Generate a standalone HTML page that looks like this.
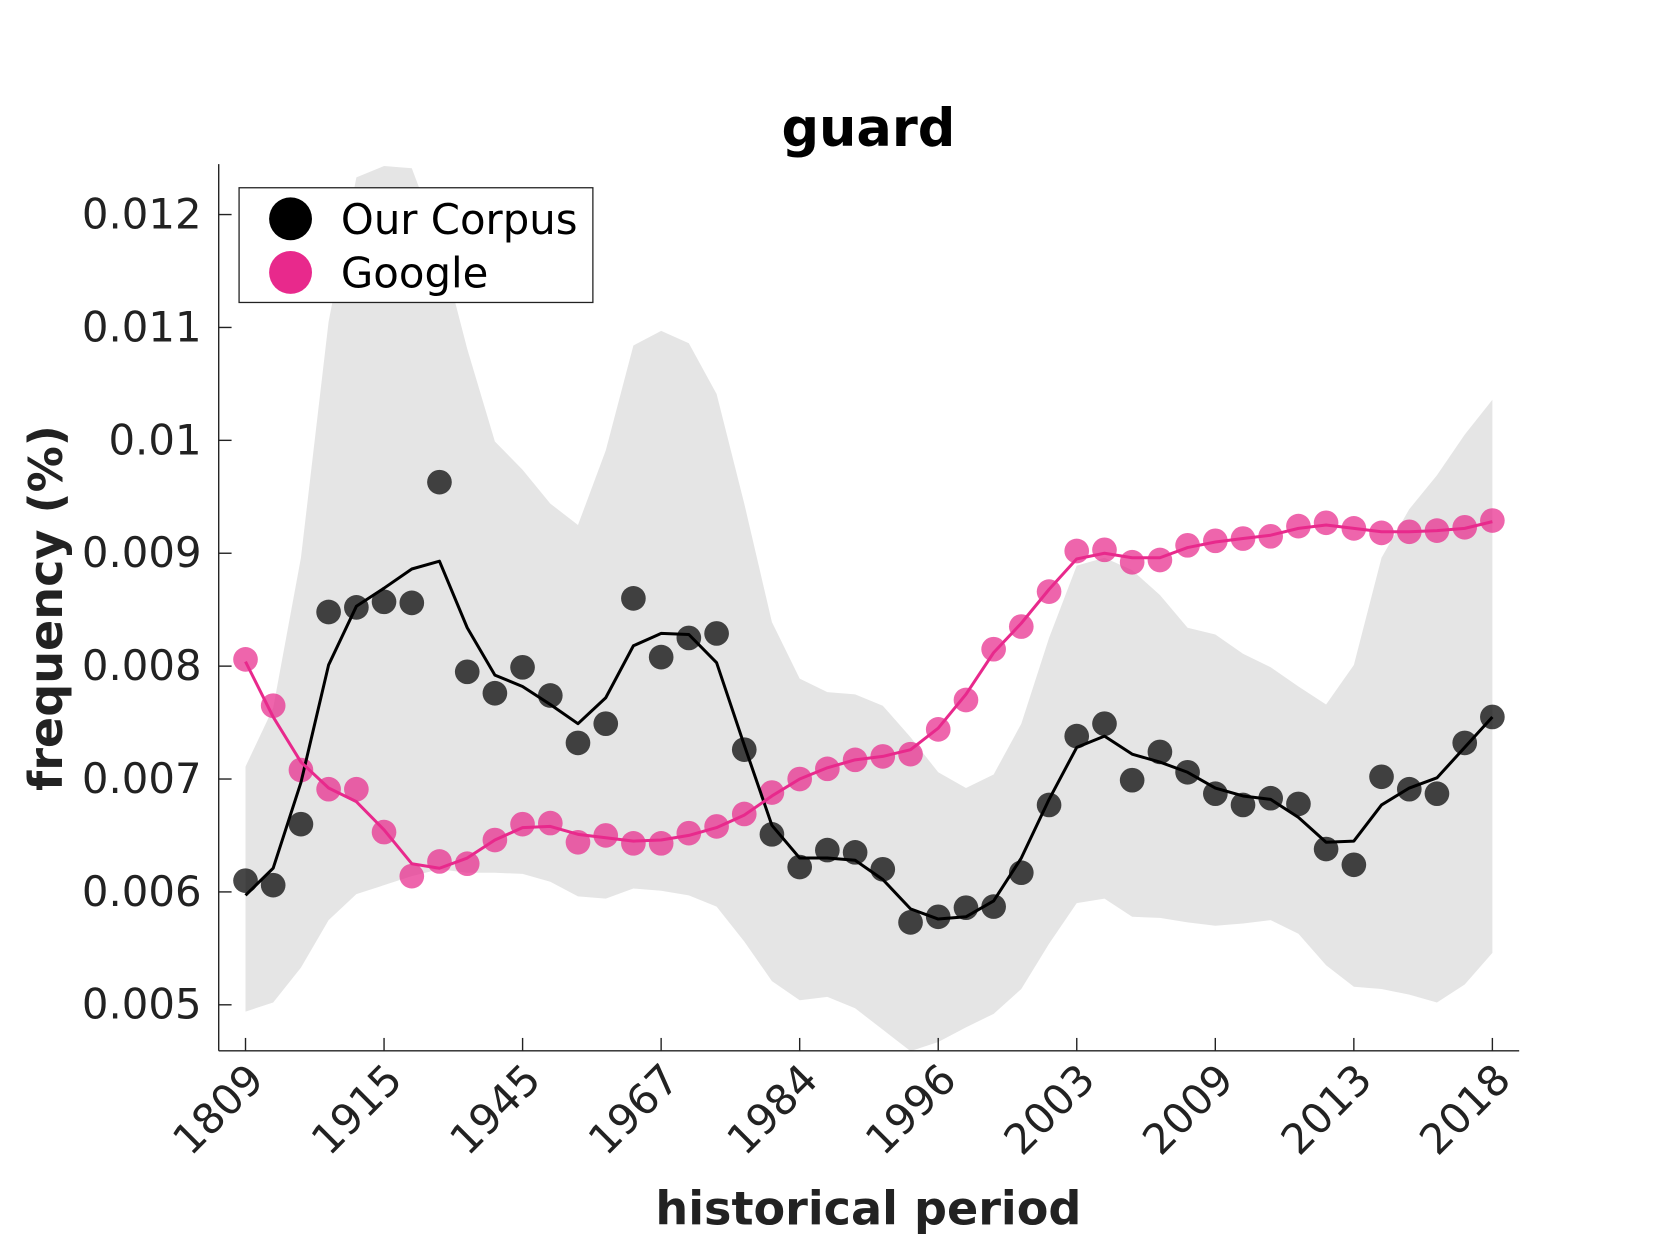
<!DOCTYPE html>
<html><head><meta charset="utf-8"><style>html,body{margin:0;padding:0;background:#fff}svg{display:block}text{font-family:"DejaVu Sans","Liberation Sans",sans-serif}</style></head>
<body>
<svg id="chart" width="1680" height="1260" viewBox="0 0 1567 1175" xmlns="http://www.w3.org/2000/svg">
<defs><clipPath id="clip"><rect x="204" y="153" width="1213" height="827"/></clipPath></defs>
<rect width="1567" height="1175" fill="#fff"/>
<text x="810" y="136" font-size="49" font-weight="bold" text-anchor="middle" fill="#000">guard</text>
<g id="band" clip-path="url(#clip)"></g>
<g id="series" clip-path="url(#clip)"></g>
<g id="axes"></g>
<text x="810" y="1142" font-size="43" font-weight="bold" text-anchor="middle" fill="#222">historical period</text>
<text transform="translate(58,567) rotate(-90)" font-size="43" font-weight="bold" text-anchor="middle" fill="#222">frequency (%)</text>
<g>
<rect x="223" y="175" width="330" height="107" fill="#fff" stroke="#222" stroke-width="1.2"/>
<circle cx="271" cy="204" r="20" fill="#000"/>
<text x="318" y="218" font-size="39" fill="#000">Our Corpus</text>
<circle cx="271" cy="254" r="20" fill="#e8298c"/>
<text x="318" y="268" font-size="39" fill="#000">Google</text>
</g>
</svg>
<script>
const xTickLabels=["1809","1915","1945","1967","1984","1996","2003","2009","2013","2018"];
const yTicks=[0.005,0.006,0.007,0.008,0.009,0.01,0.011,0.012];
const yTickLabels=["0.005","0.006","0.007","0.008","0.009","0.01","0.011","0.012"];
const corpusDots=[0.00610,0.00606,0.00660,0.00848,0.00852,0.00857,0.00856,0.00963,0.00795,0.00776,0.00799,0.00774,0.00732,0.00749,0.00860,0.00808,0.00825,0.00829,0.00726,0.00651,0.00622,0.00637,0.00635,0.00620,0.00573,0.00578,0.00586,0.00587,0.00617,0.00677,0.00738,0.00749,0.00699,0.00724,0.00706,0.00687,0.00677,0.00683,0.00678,0.00638,0.00624,0.00702,0.00691,0.00687,0.00732,0.00755];
const corpusLine=[0.00597,0.00621,0.00697,0.00801,0.00853,0.00869,0.00886,0.00893,0.00834,0.00792,0.00782,0.00766,0.00749,0.00772,0.00818,0.00829,0.00828,0.00803,0.00730,0.00659,0.00630,0.00630,0.00628,0.00611,0.00585,0.00576,0.00578,0.00592,0.00630,0.00682,0.00728,0.00738,0.00722,0.00715,0.00706,0.00692,0.00685,0.00682,0.00666,0.00644,0.00645,0.00677,0.00692,0.00701,0.00728,0.00755];
const googleDots=[0.00806,0.00765,0.00708,0.00691,0.00691,0.00653,0.00614,0.00627,0.00625,0.00646,0.00660,0.00661,0.00644,0.00650,0.00643,0.00643,0.00652,0.00658,0.00669,0.00688,0.00700,0.00709,0.00717,0.00720,0.00722,0.00744,0.00770,0.00815,0.00835,0.00866,0.00902,0.00903,0.00892,0.00894,0.00907,0.00911,0.00913,0.00915,0.00924,0.00927,0.00922,0.00918,0.00919,0.00920,0.00923,0.00929];
const googleLine=[0.00804,0.00755,0.00715,0.00692,0.00680,0.00655,0.00625,0.00621,0.00630,0.00646,0.00657,0.00658,0.00651,0.00648,0.00645,0.00646,0.00650,0.00657,0.00668,0.00685,0.00700,0.00710,0.00717,0.00720,0.00726,0.00745,0.00775,0.00812,0.00838,0.00868,0.00895,0.00900,0.00896,0.00896,0.00905,0.00910,0.00913,0.00916,0.00922,0.00925,0.00922,0.00919,0.00919,0.00920,0.00922,0.00928];
const bandUpper=[0.00711,0.00763,0.00896,0.01105,0.01233,0.01243,0.01241,0.01176,0.01081,0.00999,0.00974,0.00944,0.00925,0.00991,0.01084,0.01097,0.01086,0.01041,0.00944,0.00839,0.00789,0.00777,0.00775,0.00765,0.00737,0.00706,0.00692,0.00704,0.00749,0.00825,0.00889,0.00896,0.00885,0.00863,0.00834,0.00828,0.00811,0.00799,0.00782,0.00766,0.00801,0.00896,0.00939,0.00969,0.01005,0.01036];
const bandLower=[0.00494,0.00502,0.00533,0.00575,0.00598,0.00606,0.00614,0.00620,0.00617,0.00617,0.00616,0.00609,0.00596,0.00594,0.00603,0.00601,0.00597,0.00587,0.00556,0.00521,0.00504,0.00507,0.00497,0.00478,0.00459,0.00467,0.00480,0.00492,0.00514,0.00554,0.00590,0.00594,0.00578,0.00577,0.00573,0.00570,0.00572,0.00575,0.00563,0.00535,0.00516,0.00514,0.00509,0.00502,0.00518,0.00546];

const NS="http://www.w3.org/2000/svg";
const n=corpusDots.length;
const X0=229,X1=1392,AXL=204,AXR=1417,AXB=980,AXT=153;
function xs(i){return X0+(X1-X0)*i/(n-1);}
function ys(v){return 200+(0.012-v)/0.001*105.3;}
function mk(tag,attrs,parent){const e=document.createElementNS(NS,tag);for(const k in attrs)e.setAttribute(k,attrs[k]);parent.appendChild(e);return e;}
const band=document.getElementById('band'),series=document.getElementById('series'),axes=document.getElementById('axes');
let d='';
bandUpper.forEach((v,i)=>{d+=(i?'L':'M')+xs(i).toFixed(1)+','+ys(v).toFixed(1);});
for(let i=n-1;i>=0;i--)d+='L'+xs(i).toFixed(1)+','+ys(bandLower[i]).toFixed(1);
d+='Z';
const bp=mk('path',{d:d,fill:'#e5e5e5'},band);


function line(arr,color,name){let p='';arr.forEach((v,i)=>{p+=(i?'L':'M')+xs(i).toFixed(1)+','+ys(v).toFixed(1);});const e=mk('path',{d:p,fill:'none',stroke:color,'stroke-width':2.8,'stroke-linejoin':'round'},series);}
function dots(arr,color,name){arr.forEach((v,i)=>{const c=mk('circle',{cx:xs(i).toFixed(1),cy:ys(v).toFixed(1),r:11.5,fill:color,'fill-opacity':0.72},series);});}
dots(corpusDots,'#000','corpus-point');
dots(googleDots,'#e8298c','google-point');
line(corpusLine,'#000','corpus-trend-line');
line(googleLine,'#e8298c','google-trend-line');
const ya=mk('line',{x1:AXL,y1:AXT,x2:AXL,y2:AXB,stroke:'#222','stroke-width':1.3},axes);


const xa=mk('line',{x1:AXL,y1:AXB,x2:AXR,y2:AXB,stroke:'#222','stroke-width':1.3},axes);


yTicks.forEach((v,i)=>{const y=ys(v);mk('line',{x1:AXL,y1:y,x2:AXL+12,y2:y,stroke:'#222','stroke-width':1.3},axes);const t=mk('text',{x:188,y:y+13,'font-size':39,'text-anchor':'end',fill:'#222'},axes);t.textContent=yTickLabels[i];});
xTickLabels.forEach((lab,k)=>{const x=X0+(X1-X0)*k/(xTickLabels.length-1);mk('line',{x1:x,y1:AXB,x2:x,y2:AXB-12,stroke:'#222','stroke-width':1.3},axes);const t=mk('text',{transform:'translate('+(x+19)+',1009) rotate(-45)','font-size':39,'text-anchor':'end',fill:'#222'},axes);t.textContent=lab;});
</script>
</body></html>
